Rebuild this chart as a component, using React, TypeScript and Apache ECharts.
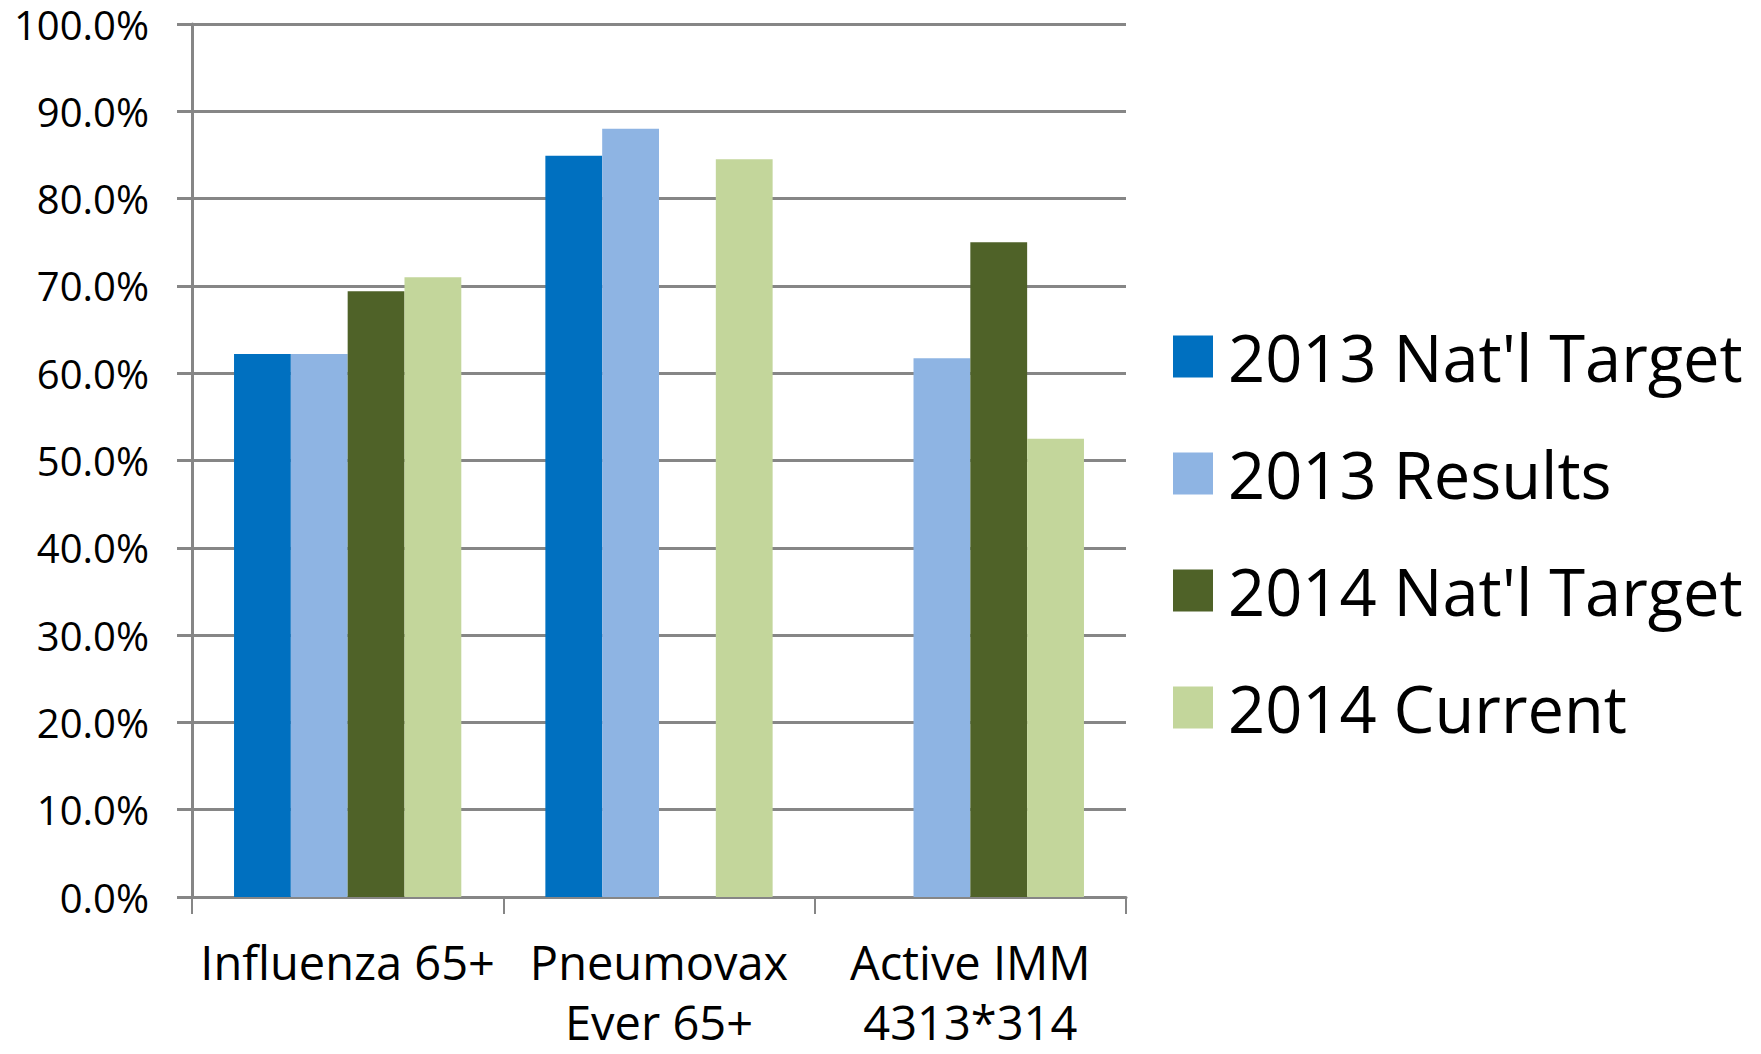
import React, { useEffect, useRef } from "react";
import * as echarts from "echarts";

const categories = ["Influenza 65+", "Pneumovax\nEver 65+", "Active IMM\n4313*314"];
const seriesNames = ["2013 Nat'l Target", "2013 Results", "2014 Nat'l Target", "2014 Current"];
const target2013 = [62.2, 84.9, null];
const results2013 = [62.2, 88.0, 61.7];
const target2014 = [69.4, null, 75.0];
const current2014 = [71.0, 84.5, 52.5];
const seriesColors = ["#0070C0", "#8EB4E3", "#4F6228", "#C3D69B"];

const FONT = "'Open Sans', 'Noto Sans', sans-serif";
const GRAY = "#868686";

export default function App() {
  const ref = useRef<HTMLDivElement>(null);
  useEffect(() => {
    if (!ref.current) return;
    const chart = echarts.init(ref.current, undefined, { renderer: "svg" });
    const seriesData = [target2013, results2013, target2014, current2014];
    chart.setOption({
      animation: false,
      backgroundColor: "#ffffff",
      grid: {
        left: 192,
        right: 635,
        top: 24,
        bottom: 157,
        containLabel: false,
        outerBoundsMode: "none",
      },
      legend: {
        orient: "vertical",
        left: 1168,
        top: 319,
        itemWidth: 40,
        itemHeight: 42,
        itemGap: 52,
        icon: "rect",
        data: seriesNames,
        textStyle: { fontFamily: FONT, fontSize: 65, color: "#000", padding: [0, 0, 0, 10] },
      },
      xAxis: {
        type: "category",
        data: categories,
        axisLine: { show: true, lineStyle: { color: GRAY, width: 3 } },
        axisTick: { show: true, length: 17, lineStyle: { color: GRAY, width: 2 } },
        axisLabel: {
          interval: 0,
          margin: 35,
          fontFamily: FONT,
          fontSize: 47,
          lineHeight: 60,
          color: "#000",
        },
      },
      yAxis: {
        type: "value",
        min: 0,
        max: 100,
        interval: 10,
        axisLine: { show: true, lineStyle: { color: GRAY, width: 3 } },
        axisTick: { show: true, length: 15, lineStyle: { color: GRAY, width: 3 } },
        splitLine: { show: true, lineStyle: { color: GRAY, width: 3 } },
        axisLabel: {
          margin: 43,
          fontFamily: FONT,
          fontSize: 40,
          lineHeight: 40,
          color: "#000",
          formatter: (v: number) => v.toFixed(1) + "%",
        },
      },
      series: seriesNames.map((name, i) => ({
        name,
        type: "bar",
        data: seriesData[i],
        barGap: "0%",
        barCategoryGap: "27%",
        itemStyle: { color: seriesColors[i] },
      })),
    });
    return () => chart.dispose();
  }, []);
  return (
    <div
      ref={ref}
      style={{ position: "fixed", left: 0, top: 0, width: 1761, height: 1054, background: "#fff" }}
    />
  );
}
